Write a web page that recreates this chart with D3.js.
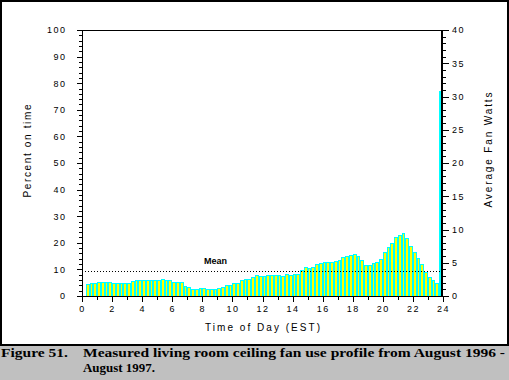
<!DOCTYPE html>
<html><head><meta charset="utf-8">
<script src="https://cdn.jsdelivr.net/npm/d3@7"></script>
<style>body{margin:0;background:#fff}svg{display:block}</style>
</head><body><svg id="c" width="509" height="380"></svg>
<script>
// ---- data ----
const hours = [0,0.25,0.5,0.75,1,1.25,1.5,1.75,2,2.25,2.5,2.75,3,3.25,3.5,3.75,4,4.25,4.5,4.75,5,5.25,5.5,5.75,6,6.25,6.5,6.75,7,7.25,7.5,7.75,8,8.25,8.5,8.75,9,9.25,9.5,9.75,10,10.25,10.5,10.75,11,11.25,11.5,11.75,12,12.25,12.5,12.75,13,13.25,13.5,13.75,14,14.25,14.5,14.75,15,15.25,15.5,15.75,16,16.25,16.5,16.75,17,17.25,17.5,17.75,18,18.25,18.5,18.75,19,19.25,19.5,19.75,20,20.25,20.5,20.75,21,21.25,21.5,21.75,22,22.25,22.5,22.75,23,23.25,23.5,23.75];
const percentOn = [0,4.5,4.9,4.9,5.3,5.3,5.3,5.3,4.9,4.9,4.9,4.9,4.9,5.7,6.0,6.0,6.0,6.0,6.0,6.0,6.0,6.4,6.0,6.0,5.3,5.3,5.3,3.8,3.4,2.6,2.6,3.0,3.0,2.6,2.6,2.6,3.0,3.4,4.2,4.2,4.9,4.9,6.0,6.4,6.4,7.2,7.9,7.5,7.5,7.9,7.9,7.9,7.9,7.5,8.3,7.9,8.3,8.3,9.8,10.9,10.6,10.9,12.1,12.5,12.8,12.8,12.8,13.2,13.6,14.7,15.1,15.5,15.8,15.1,13.6,11.7,11.7,12.5,12.8,14.0,16.6,18.3,20.0,22.3,23.0,23.8,21.9,18.9,16.6,14.3,12.1,9.1,7.2,6.0,4.9,77.0];
const meanValue = 9.4;
const leftTicks = [0,10,20,30,40,50,60,70,80,90,100];
const rightTicks = [0,5,10,15,20,25,30,35,40];
const xTicks = [0,2,4,6,8,10,12,14,16,18,20,22,24];
const xLabel = "Time of Day (EST)";
const yLabel = "Percent on time";
const y2Label = "Average Fan Watts";
const meanLabel = "Mean";
const captionNum = "Figure 51.";
const captionLines = ["Measured living room ceiling fan use profile from August 1996 -", "August 1997."];

// ---- drawing ----
const svg = d3.select("#c");
const L = 82, R = 443, T = 30, B = 296;
const x = d3.scaleLinear().domain([0,24]).range([L,R]);
const y = d3.scaleLinear().domain([0,100]).range([B,T]);
const y2 = d3.scaleLinear().domain([0,40]).range([B,T]);
const font = "'Liberation Sans', Arial, sans-serif";

// caption band and white box
svg.append("rect").attr("x",0).attr("y",345).attr("width",509).attr("height",35).attr("fill","#c0c0c0");
svg.append("rect").attr("x",1).attr("y",1).attr("width",507).attr("height",344)
  .attr("fill","#fff").attr("stroke","#000").attr("stroke-width",2).attr("shape-rendering","crispEdges");

// clip (bars end just left of the thick right axis)
const clipR = R - 2;
svg.append("clipPath").attr("id","pc").append("rect").attr("x",L).attr("y",T).attr("width",clipR-L).attr("height",B-T);

// bars: each bar its own cyan outline with yellow inside, pixel-aligned
const data = hours.map((h,i)=>({h, v:percentOn[i]})).filter(d=>d.v>0);
const bx0 = d=>Math.round(x(d.h)), bx1 = d=>Math.round(x(d.h+0.25));
svg.append("g").attr("clip-path","url(#pc)").selectAll("rect").data(data).join("rect")
  .attr("x", d=>bx0(d)+0.5)
  .attr("y", d=>Math.round(y(d.v))+0.5)
  .attr("width", d=>bx1(d)-bx0(d)-1)
  .attr("height", d=>Math.round(y(0))-Math.round(y(d.v)))
  .attr("fill", d=> bx1(d) > clipR ? "#00ffff" : "#ffff00")
  .attr("stroke","#00ffff").attr("stroke-width",1);

// mean line
const my = Math.round(y(meanValue))+0.5;
svg.append("line").attr("x1",x(0.2)).attr("x2",x(23.85)).attr("y1",my).attr("y2",my)
  .attr("stroke","#000").attr("stroke-width",1).attr("stroke-dasharray","1,2");
svg.append("text").attr("x",204).attr("y",264).text(meanLabel)
  .attr("font-family",font).attr("font-size",9).attr("font-weight","bold")
  .attr("textLength",23).attr("lengthAdjust","spacing").attr("fill","#000");

// frame lines
const fr = svg.append("g").attr("stroke","#000").attr("shape-rendering","crispEdges");
fr.append("line").attr("x1",L).attr("x2",R).attr("y1",T+0.5).attr("y2",T+0.5);
fr.append("line").attr("x1",L+0.5).attr("x2",L+0.5).attr("y1",T).attr("y2",B+1);
fr.append("line").attr("x1",L).attr("x2",R).attr("y1",B+0.5).attr("y2",B+0.5);
fr.append("line").attr("x1",R-1).attr("x2",R-1).attr("y1",T).attr("y2",B+1).attr("stroke-width",2);

function styleAxis(g){
  g.select(".domain").remove();
  g.selectAll("line").attr("shape-rendering","crispEdges").attr("stroke","#000");
  g.selectAll("text").attr("font-family",font).attr("font-size",9).attr("fill","#000").attr("letter-spacing","1.5px");
}
// left axis
svg.append("g").attr("transform",`translate(${L+0.5},0)`)
  .call(d3.axisLeft(y).tickValues(d3.range(0,101,2)).tickSize(4).tickFormat(""))
  .call(styleAxis);
svg.append("g").attr("transform",`translate(${L+0.5},0)`)
  .call(d3.axisLeft(y).tickValues(leftTicks).tickSize(6).tickPadding(10).tickFormat(d3.format("d")))
  .call(styleAxis);
// right axis
svg.append("g").attr("transform",`translate(${R-1},0)`)
  .call(d3.axisRight(y2).tickValues(d3.range(0,41,1)).tickSize(4).tickFormat(""))
  .call(styleAxis);
svg.append("g").attr("transform",`translate(${R-1},0)`)
  .call(d3.axisRight(y2).tickValues(rightTicks).tickSize(7).tickPadding(3).tickFormat(d3.format("d")))
  .call(styleAxis);
// bottom axis
svg.append("g").attr("transform",`translate(0,${B+0.5})`)
  .call(d3.axisBottom(x).tickValues(d3.range(0,25,1)).tickSize(3).tickFormat(""))
  .call(styleAxis);
svg.append("g").attr("transform",`translate(0,${B+0.5})`)
  .call(d3.axisBottom(x).tickValues(xTicks).tickSize(5).tickPadding(4).tickFormat(d3.format("d")))
  .call(styleAxis);

// axis titles
const tstyle = s=>s.attr("font-family",font).attr("font-size",10).attr("fill","#000").attr("lengthAdjust","spacing");
svg.append("text").attr("x",(L+R)/2).attr("y",331).attr("text-anchor","middle").text(xLabel)
  .attr("textLength",115).call(tstyle);
svg.append("text").attr("transform","translate(31,151) rotate(-90)").attr("text-anchor","middle").text(yLabel)
  .attr("textLength",93).call(tstyle);
svg.append("text").attr("transform","translate(492,150) rotate(-90)").attr("text-anchor","middle").text(y2Label)
  .attr("textLength",115).call(tstyle);

// caption
const cf = "'Liberation Serif','Times New Roman',serif";
const cap = (tx,xx,yy,len)=>svg.append("text").attr("x",xx).attr("y",yy).text(tx)
  .attr("font-family",cf).attr("font-size",13.5).attr("font-weight","bold")
  .attr("textLength",len).attr("lengthAdjust","spacingAndGlyphs").attr("fill","#000");
cap(captionNum,1,356.5,67);
cap(captionLines[0],83,356.5,422);
cap(captionLines[1],83,372,72);
</script></body></html>
